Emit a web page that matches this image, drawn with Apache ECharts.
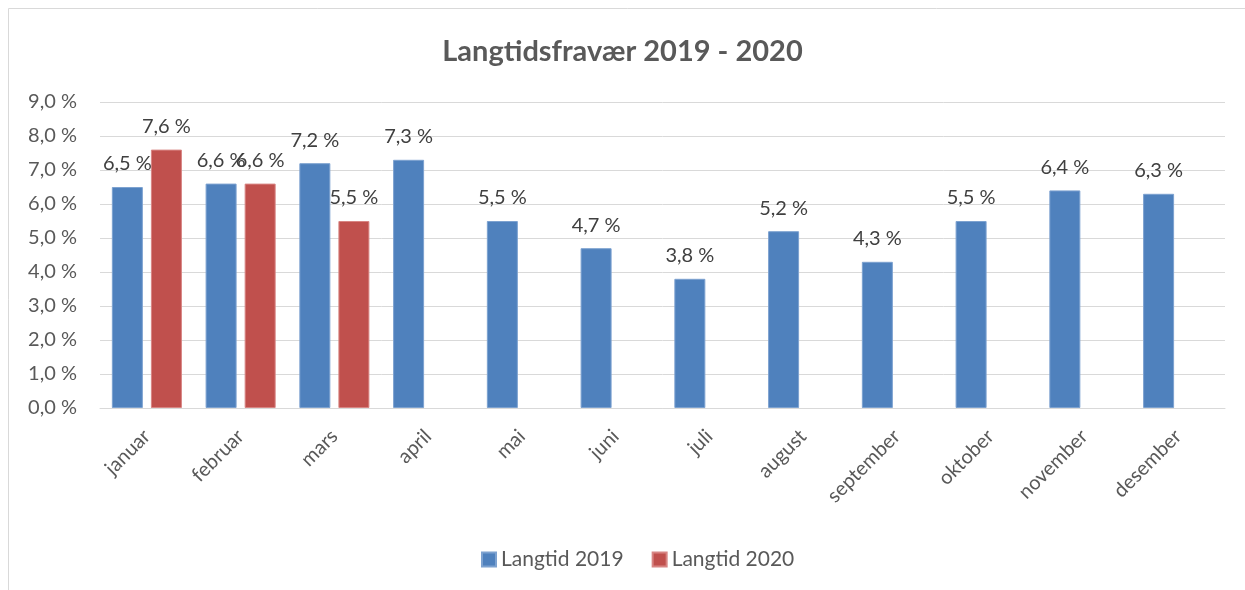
<!DOCTYPE html>
<html>
<head>
<meta charset="utf-8">
<script src="https://cdn.jsdelivr.net/npm/echarts@6/dist/echarts.min.js"></script>
<style>
  html, body { margin: 0; padding: 0; background: #fff; }
  #chart { width: 1245px; height: 590px; }
</style>
</head>
<body>
<div id="chart"></div>
<script>
var months = ['januar', 'februar', 'mars', 'april', 'mai', 'juni', 'juli', 'august', 'september', 'oktober', 'november', 'desember'];
var langtid2019 = [6.5, 6.6, 7.2, 7.3, 5.5, 4.7, 3.8, 5.2, 4.3, 5.5, 6.4, 6.3];
var langtid2020 = [7.6, 6.6, 5.5, null, null, null, null, null, null, null, null, null];
var yTicks = [0, 1, 2, 3, 4, 5, 6, 7, 8, 9];

var font = 'Lato, "Open Sans", sans-serif';

function pct(v) {
  return v.toFixed(1).replace('.', ',') + ' %';
}

var labelStyle = {
  show: true,
  position: 'top',
  distance: 13,
  color: '#404040',
  fontSize: 20,
  fontFamily: font,
  formatter: function (p) { return pct(p.value); }
};

var chart = echarts.init(document.getElementById('chart'));
chart.setOption({
  animation: false,
  textStyle: { fontFamily: font },
  graphic: [{
    type: 'rect',
    shape: { x: 8.5, y: 8.5, width: 1300, height: 700 },
    style: { fill: 'none', stroke: '#d9d9d9', lineWidth: 1 },
    silent: true
  }],
  title: {
    text: 'Langtidsfravær 2019 - 2020',
    left: 'center',
    top: 32,
    textStyle: { color: '#595959', fontSize: 29, fontWeight: 'bold', fontFamily: font }
  },
  legend: {
    bottom: 15,
    left: 476,
    itemWidth: 14,
    itemHeight: 14,
    itemGap: 28,
    icon: 'rect',
    textStyle: { color: '#595959', fontSize: 21, fontFamily: font },
    data: ['Langtid 2019', 'Langtid 2020']
  },
  grid: { left: 100, right: 20, top: 102, bottom: 182, containLabel: false },
  xAxis: {
    type: 'category',
    data: months,
    axisLine: { lineStyle: { color: '#d9d9d9', width: 1 } },
    axisTick: { show: false },
    axisLabel: { rotate: 45, margin: 25, color: '#595959', fontSize: 20, fontFamily: font, interval: 0 }
  },
  yAxis: {
    type: 'value',
    min: yTicks[0],
    max: yTicks[yTicks.length - 1],
    interval: 1,
    axisLine: { show: false },
    axisTick: { show: false },
    splitLine: { lineStyle: { color: '#d9d9d9', width: 1 } },
    axisLabel: { color: '#595959', fontSize: 20, fontFamily: font, margin: 23, formatter: pct }
  },
  series: [
    {
      name: 'Langtid 2019',
      type: 'bar',
      data: langtid2019,
      barWidth: 31,
      barGap: '26%',
      itemStyle: { color: '#4f81bd', borderColor: '#7da2d0', borderWidth: 1 },
      label: labelStyle
    },
    {
      name: 'Langtid 2020',
      type: 'bar',
      data: langtid2020,
      barWidth: 31,
      barGap: '26%',
      itemStyle: { color: '#c0504d', borderColor: '#d88583', borderWidth: 1 },
      label: labelStyle
    }
  ]
});
</script>
</body>
</html>
